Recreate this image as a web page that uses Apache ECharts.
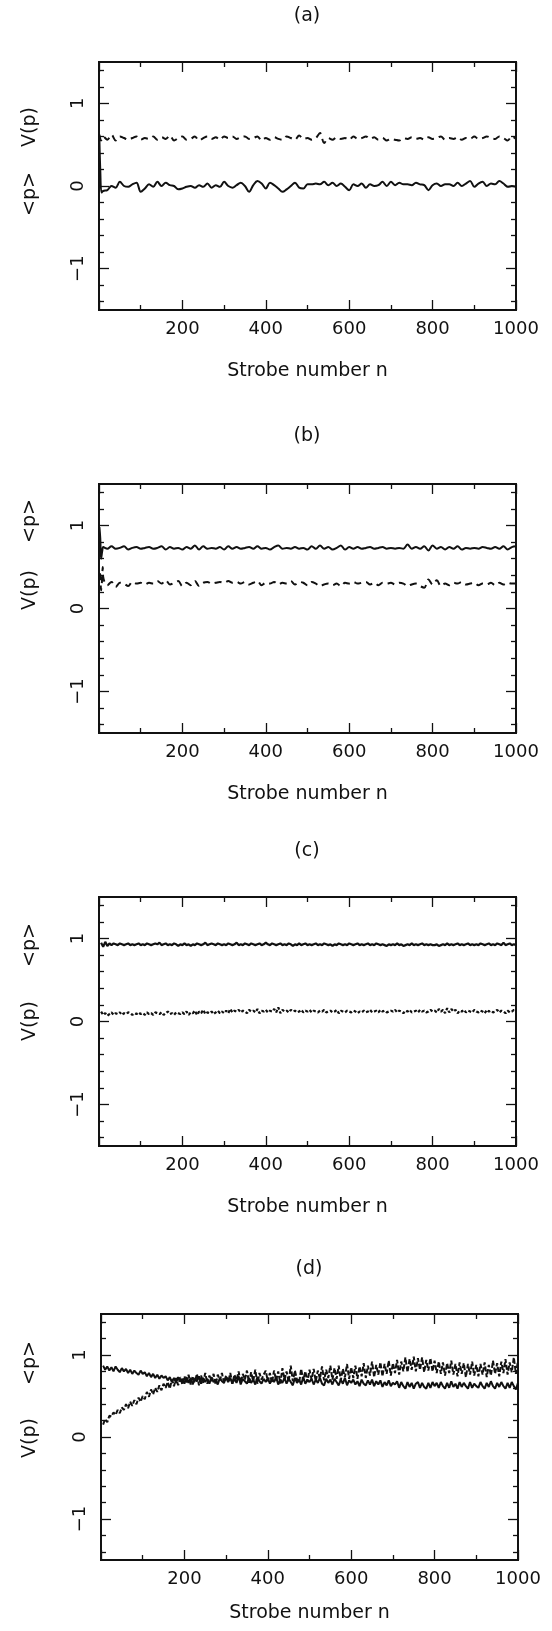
<!DOCTYPE html>
<html><head><meta charset="utf-8">
<script src="https://cdn.jsdelivr.net/npm/echarts@6/dist/echarts.min.js"></script>
<style>html,body{margin:0;padding:0;background:#fff}#c{width:552px;height:1631px}</style>
</head><body><div id="c"></div>
<script>
// ---------- text / ticks ----------
const PANEL_LABELS = ['(a)', '(b)', '(c)', '(d)'];
const X_NAME = 'Strobe number n';
const Y_MAJOR = [-1, 0, 1];
const Y_MINOR = [-1.4, -1.2, -0.8, -0.6, -0.4, -0.2, 0.2, 0.4, 0.6, 0.8, 1.2, 1.4];
const NAME_P = '<p>';
const NAME_V = 'V(p)';

// ---------- sample grids (strobe numbers) ----------
const N10 = Array.from({length: 100}, (_, i) => 10 * (i + 1));
const N5 = Array.from({length: 200}, (_, i) => 5 * (i + 1));

// ---------- panel (a) ----------
const A_SOLID_EARLY_N = [1, 3, 6];
const A_SOLID_EARLY = [0.55, 0.20, -0.08];
const A_SOLID = [
 -0.06,-0.05,0.00,-0.02,0.05,0.00,-0.01,0.02,0.04,-0.07,
 -0.03,0.02,-0.01,0.05,0.00,0.04,0.01,0.00,-0.04,-0.03,
 -0.01,0.00,-0.02,0.01,-0.01,0.03,-0.02,0.01,-0.01,0.05,
 0.00,-0.02,0.01,0.04,0.00,-0.07,0.01,0.06,0.03,-0.03,
 0.04,0.01,-0.03,-0.07,-0.04,0.00,0.04,-0.02,-0.03,0.02,
 0.02,0.03,0.02,0.05,0.01,0.04,0.00,0.03,-0.01,-0.05,
 0.02,0.00,0.03,-0.02,0.02,0.00,0.01,0.05,0.00,0.05,
 0.01,0.04,0.02,0.02,0.01,0.04,0.02,0.01,-0.05,0.01,
 0.03,0.00,0.02,0.02,0.00,0.04,0.00,0.03,0.06,-0.01,
 0.03,0.05,0.00,0.03,0.02,0.06,0.03,-0.01,0.00,-0.01];
const A_DASH_EARLY_N = [1, 5];
const A_DASH_EARLY = [0.62, 0.55];
const A_DASH = [
 0.60,0.56,0.62,0.55,0.60,0.58,0.56,0.58,0.60,0.56,
 0.58,0.57,0.60,0.56,0.59,0.57,0.61,0.55,0.58,0.60,
 0.56,0.57,0.60,0.55,0.58,0.60,0.57,0.59,0.56,0.60,
 0.58,0.60,0.57,0.59,0.60,0.57,0.58,0.60,0.55,0.58,
 0.56,0.59,0.57,0.56,0.60,0.58,0.56,0.61,0.57,0.58,
 0.56,0.58,0.64,0.52,0.58,0.56,0.59,0.57,0.58,0.56,
 0.60,0.57,0.58,0.60,0.57,0.59,0.56,0.58,0.55,0.57,
 0.56,0.55,0.58,0.57,0.59,0.57,0.58,0.56,0.59,0.57,
 0.58,0.60,0.56,0.58,0.57,0.59,0.56,0.58,0.57,0.60,
 0.57,0.58,0.60,0.58,0.57,0.60,0.58,0.55,0.60,0.57];

// ---------- panel (b) ----------
const B_SOLID_EARLY_N = [1, 3, 5, 8];
const B_SOLID_EARLY = [0.98, 0.85, 0.60, 0.70];
const B_SOLID = [
 0.74,0.72,0.75,0.72,0.73,0.75,0.71,0.73,0.74,0.72,
 0.73,0.74,0.72,0.73,0.75,0.71,0.74,0.72,0.73,0.71,
 0.74,0.72,0.76,0.71,0.75,0.72,0.73,0.72,0.74,0.71,
 0.75,0.72,0.74,0.72,0.73,0.74,0.72,0.75,0.72,0.73,
 0.71,0.74,0.76,0.72,0.73,0.72,0.74,0.72,0.73,0.71,
 0.75,0.72,0.76,0.72,0.74,0.71,0.73,0.76,0.71,0.74,
 0.72,0.74,0.72,0.73,0.74,0.72,0.73,0.74,0.72,0.73,
 0.72,0.73,0.72,0.77,0.72,0.74,0.72,0.75,0.70,0.76,
 0.72,0.74,0.71,0.74,0.72,0.75,0.71,0.73,0.72,0.73,
 0.72,0.74,0.73,0.72,0.74,0.72,0.75,0.71,0.74,0.75];
const B_DASH_EARLY_N = [1, 3, 5, 7, 9];
const B_DASH_EARLY = [0.42, 0.41, 0.22, 0.32, 0.50];
const B_DASH = [
 0.38,0.28,0.32,0.26,0.31,0.30,0.27,0.32,0.30,0.31,
 0.29,0.31,0.30,0.33,0.30,0.34,0.29,0.31,0.33,0.27,
 0.31,0.28,0.33,0.27,0.31,0.32,0.30,0.31,0.32,0.31,
 0.33,0.31,0.32,0.30,0.32,0.29,0.31,0.33,0.28,0.31,
 0.30,0.32,0.29,0.31,0.30,0.33,0.29,0.32,0.31,0.28,
 0.32,0.30,0.27,0.29,0.30,0.28,0.30,0.27,0.31,0.30,
 0.32,0.30,0.31,0.32,0.29,0.31,0.28,0.31,0.30,0.31,
 0.29,0.31,0.30,0.27,0.29,0.30,0.27,0.25,0.35,0.29,
 0.34,0.27,0.30,0.28,0.31,0.30,0.32,0.29,0.30,0.31,
 0.28,0.30,0.29,0.31,0.28,0.31,0.29,0.31,0.30,0.30];

// ---------- panel (c) ----------
const C_SOLID = [
 0.95,0.90,0.96,0.91,0.94,0.92,0.94,0.93,0.92,0.94,
 0.93,0.92,0.93,0.94,0.92,0.93,0.92,0.93,0.94,0.92,
 0.93,0.92,0.94,0.93,0.92,0.93,0.94,0.93,0.95,0.92,
 0.93,0.94,0.92,0.93,0.92,0.94,0.93,0.91,0.93,0.92,
 0.94,0.92,0.93,0.91,0.93,0.92,0.94,0.93,0.92,0.93,
 0.95,0.92,0.93,0.94,0.93,0.92,0.94,0.93,0.92,0.93,
 0.92,0.94,0.93,0.92,0.93,0.95,0.92,0.93,0.92,0.94,
 0.93,0.92,0.94,0.93,0.92,0.93,0.94,0.92,0.93,0.95,
 0.93,0.92,0.94,0.93,0.92,0.93,0.94,0.92,0.93,0.92,
 0.94,0.93,0.91,0.93,0.92,0.94,0.92,0.93,0.94,0.92,
 0.93,0.92,0.93,0.94,0.92,0.93,0.92,0.94,0.93,0.92,
 0.93,0.91,0.93,0.92,0.94,0.93,0.92,0.93,0.92,0.94,
 0.93,0.92,0.93,0.94,0.92,0.93,0.92,0.93,0.94,0.92,
 0.93,0.92,0.94,0.93,0.92,0.93,0.92,0.91,0.93,0.92,
 0.93,0.92,0.94,0.92,0.93,0.91,0.92,0.93,0.92,0.94,
 0.92,0.93,0.92,0.93,0.94,0.92,0.93,0.92,0.93,0.92,
 0.92,0.93,0.91,0.92,0.93,0.92,0.94,0.92,0.93,0.92,
 0.93,0.94,0.92,0.93,0.92,0.93,0.94,0.92,0.93,0.92,
 0.93,0.92,0.94,0.93,0.92,0.93,0.94,0.92,0.93,0.92,
 0.94,0.93,0.92,0.95,0.92,0.93,0.94,0.92,0.93,0.92];
const C_DASH = [
 0.12,0.08,0.10,0.07,0.09,0.11,0.08,0.10,0.09,0.11,
 0.08,0.10,0.09,0.11,0.10,0.08,0.10,0.09,0.11,0.09,
 0.10,0.08,0.11,0.09,0.10,0.08,0.11,0.10,0.09,0.11,
 0.08,0.10,0.12,0.09,0.10,0.08,0.11,0.10,0.09,0.11,
 0.09,0.12,0.08,0.11,0.10,0.13,0.08,0.12,0.10,0.14,
 0.09,0.11,0.10,0.12,0.09,0.11,0.13,0.10,0.12,0.10,
 0.13,0.10,0.15,0.11,0.13,0.12,0.14,0.11,0.13,0.12,
 0.10,0.14,0.12,0.13,0.11,0.15,0.10,0.13,0.12,0.14,
 0.11,0.13,0.12,0.15,0.11,0.17,0.10,0.14,0.12,0.13,
 0.11,0.14,0.12,0.13,0.11,0.12,0.14,0.11,0.13,0.12,
 0.14,0.11,0.13,0.12,0.11,0.13,0.12,0.14,0.11,0.12,
 0.13,0.11,0.12,0.14,0.10,0.13,0.12,0.11,0.13,0.12,
 0.11,0.13,0.12,0.10,0.12,0.11,0.13,0.11,0.12,0.14,
 0.11,0.12,0.13,0.11,0.14,0.12,0.13,0.11,0.12,0.13,
 0.12,0.14,0.11,0.13,0.12,0.10,0.13,0.12,0.14,0.11,
 0.12,0.13,0.11,0.14,0.12,0.13,0.11,0.12,0.14,0.12,
 0.13,0.11,0.15,0.12,0.14,0.10,0.16,0.11,0.15,0.12,
 0.14,0.10,0.13,0.12,0.14,0.11,0.13,0.12,0.11,0.14,
 0.12,0.11,0.13,0.12,0.10,0.14,0.12,0.13,0.11,0.12,
 0.14,0.11,0.13,0.12,0.10,0.13,0.11,0.12,0.14,0.12];

// ---------- panel (d) ----------
const D_SOLID = [
 0.87,0.82,0.86,0.81,0.85,0.80,0.86,0.82,0.79,0.84,
 0.80,0.83,0.78,0.82,0.77,0.81,0.78,0.76,0.81,0.77,
 0.79,0.74,0.78,0.73,0.77,0.72,0.76,0.71,0.75,0.72,
 0.74,0.69,0.73,0.67,0.72,0.66,0.73,0.68,0.71,0.65,
 0.73,0.66,0.72,0.64,0.71,0.68,0.74,0.65,0.72,0.67,
 0.71,0.65,0.73,0.67,0.70,0.64,0.72,0.68,0.66,0.73,
 0.67,0.72,0.65,0.71,0.66,0.74,0.64,0.71,0.68,0.65,
 0.72,0.66,0.70,0.64,0.73,0.68,0.65,0.71,0.67,0.72,
 0.65,0.71,0.67,0.73,0.64,0.70,0.66,0.72,0.65,0.71,
 0.67,0.63,0.72,0.66,0.70,0.64,0.73,0.65,0.70,0.67,
 0.71,0.64,0.70,0.66,0.72,0.65,0.63,0.71,0.66,0.70,
 0.64,0.71,0.67,0.63,0.70,0.65,0.72,0.63,0.69,0.66,
 0.70,0.64,0.68,0.62,0.70,0.65,0.63,0.69,0.64,0.70,
 0.62,0.68,0.64,0.69,0.61,0.67,0.63,0.69,0.62,0.66,
 0.64,0.68,0.60,0.67,0.62,0.59,0.67,0.61,0.66,0.59,
 0.65,0.67,0.60,0.66,0.61,0.59,0.66,0.60,0.67,0.62,
 0.66,0.60,0.67,0.62,0.59,0.66,0.60,0.68,0.61,0.65,
 0.59,0.67,0.61,0.66,0.62,0.59,0.67,0.60,0.65,0.62,
 0.60,0.67,0.62,0.59,0.66,0.61,0.68,0.62,0.59,0.66,
 0.61,0.67,0.62,0.59,0.66,0.60,0.67,0.62,0.58,0.66];
const D_DASH = [
 0.15,0.22,0.18,0.26,0.25,0.30,0.27,0.33,0.29,0.36,
 0.33,0.40,0.35,0.43,0.38,0.45,0.40,0.48,0.43,0.50,
 0.46,0.55,0.49,0.58,0.52,0.60,0.55,0.63,0.57,0.65,
 0.60,0.67,0.59,0.70,0.62,0.72,0.63,0.73,0.64,0.74,
 0.66,0.76,0.64,0.74,0.67,0.77,0.63,0.75,0.66,0.78,
 0.65,0.75,0.68,0.77,0.64,0.76,0.69,0.78,0.66,0.75,
 0.67,0.78,0.65,0.76,0.69,0.80,0.66,0.77,0.70,0.81,
 0.66,0.79,0.68,0.82,0.65,0.78,0.70,0.76,0.81,0.68,
 0.78,0.66,0.81,0.69,0.80,0.65,0.84,0.70,0.80,0.67,
 0.87,0.68,0.81,0.70,0.66,0.83,0.69,0.80,0.67,0.82,
 0.70,0.83,0.68,0.81,0.71,0.86,0.69,0.82,0.72,0.87,
 0.70,0.84,0.71,0.87,0.69,0.83,0.73,0.89,0.71,0.85,
 0.72,0.87,0.71,0.86,0.74,0.90,0.72,0.87,0.75,0.92,
 0.73,0.88,0.76,0.91,0.74,0.89,0.77,0.93,0.75,0.90,
 0.78,0.94,0.76,0.92,0.80,0.97,0.79,0.95,0.82,0.98,
 0.80,0.96,0.82,0.97,0.79,0.94,0.81,0.96,0.80,0.93,
 0.78,0.92,0.77,0.91,0.75,0.90,0.78,0.93,0.76,0.89,
 0.74,0.91,0.77,0.90,0.73,0.89,0.76,0.92,0.75,0.88,
 0.74,0.89,0.76,0.91,0.73,0.88,0.75,0.93,0.77,0.90,
 0.74,0.92,0.78,0.95,0.76,0.91,0.79,0.97,0.77,0.93];

// ---------- build ----------
function pairs(ns, vs) { return ns.map((n, i) => [n, vs[i]]); }
const FONT = '"DejaVu Sans", sans-serif';
const INK = '#111';

const panels = [
  {left: 99, top: 62, height: 248, title: [307, 16], nameGap: 52,
   names: [[NAME_V, 127], [NAME_P, 194]], smooth: 0.35, width: 2.0,
   solid: pairs(A_SOLID_EARLY_N.concat(N10), A_SOLID_EARLY.concat(A_SOLID)),
   dash: pairs(A_DASH_EARLY_N.concat(N10), A_DASH_EARLY.concat(A_DASH)), dashType: [7, 5]},
  {left: 99, top: 484, height: 249, title: [307, 436], nameGap: 52,
   names: [[NAME_P, 521], [NAME_V, 590]], smooth: 0.35, width: 2.0,
   solid: pairs(B_SOLID_EARLY_N.concat(N10), B_SOLID_EARLY.concat(B_SOLID)),
   dash: pairs(B_DASH_EARLY_N.concat(N10), B_DASH_EARLY.concat(B_DASH)), dashType: [7, 5]},
  {left: 99, top: 897, height: 249, title: [307, 851], nameGap: 52,
   names: [[NAME_P, 945], [NAME_V, 1021]], smooth: false, width: 2.2,
   solid: pairs(N5, C_SOLID), dash: pairs(N5, C_DASH), dashType: [3, 2]},
  {left: 101, top: 1314, height: 246, title: [309, 1269], nameGap: 44,
   names: [[NAME_P, 1363], [NAME_V, 1438]], smooth: false, width: 2.0,
   solid: pairs(N5, D_SOLID), dash: pairs(N5, D_DASH), dashType: [5, 2]}
];

const grid = [], xAxis = [], yAxis = [], series = [], graphic = [];
const lineCol = {color: INK, width: 1.8};
const tickCol = {color: INK, width: 1.3};

panels.forEach((p, i) => {
  grid.push({left: p.left, top: p.top, width: 417, height: p.height,
             show: true, borderColor: INK, borderWidth: 1.8, backgroundColor: 'transparent'});
  xAxis.push({gridIndex: i, type: 'value', min: 0, max: 1000, interval: 200, position: 'bottom',
    axisLine: {show: true, onZero: false, lineStyle: lineCol},
    axisTick: {show: true, inside: true, length: 10, lineStyle: tickCol},
    minorTick: {show: true, splitNumber: 2, length: 5, lineStyle: tickCol},
    axisLabel: {show: true, showMinLabel: false, margin: 10, color: INK, fontFamily: FONT, fontSize: 18,
                formatter: v => String(v)},
    splitLine: {show: false}, minorSplitLine: {show: false},
    name: X_NAME, nameLocation: 'middle', nameGap: p.nameGap,
    nameTextStyle: {color: INK, fontFamily: FONT, fontSize: 19}});
  xAxis.push({gridIndex: i, type: 'value', min: 0, max: 1000, interval: 200, position: 'top',
    axisLine: {show: true, onZero: false, lineStyle: lineCol},
    axisTick: {show: true, inside: true, length: 10, lineStyle: tickCol},
    minorTick: {show: true, splitNumber: 2, length: 5, lineStyle: tickCol},
    axisLabel: {show: false}, splitLine: {show: false}});
  const yBase = {gridIndex: i, type: 'value', min: -1.5, max: 1.5, splitLine: {show: false}};
  yAxis.push(Object.assign({}, yBase, {position: 'left',
    axisLine: {show: true, onZero: false, lineStyle: lineCol},
    axisTick: {show: true, inside: true, length: 10, customValues: Y_MAJOR, lineStyle: tickCol},
    axisLabel: {show: true, customValues: Y_MAJOR, rotate: 90, margin: 12, color: INK,
                fontFamily: FONT, fontSize: 18,
                formatter: v => (v < 0 ? '\u2212' + Math.abs(v) : String(v))}}));
  yAxis.push(Object.assign({}, yBase, {position: 'left',
    axisLine: {show: false, onZero: false},
    axisTick: {show: true, inside: true, length: 5, customValues: Y_MINOR, lineStyle: tickCol},
    axisLabel: {show: false}}));
  yAxis.push(Object.assign({}, yBase, {position: 'right',
    axisLine: {show: true, onZero: false, lineStyle: lineCol},
    axisTick: {show: true, inside: true, length: 10, customValues: Y_MAJOR, lineStyle: tickCol},
    axisLabel: {show: false}}));
  yAxis.push(Object.assign({}, yBase, {position: 'right',
    axisLine: {show: false, onZero: false},
    axisTick: {show: true, inside: true, length: 5, customValues: Y_MINOR, lineStyle: tickCol},
    axisLabel: {show: false}}));

  series.push({type: 'line', name: NAME_P, xAxisIndex: 2 * i, yAxisIndex: 4 * i,
    data: p.solid, showSymbol: false, symbol: 'none', smooth: p.smooth,
    lineStyle: {color: INK, width: p.width, type: 'solid'}, animation: false});
  series.push({type: 'line', name: NAME_V, xAxisIndex: 2 * i, yAxisIndex: 4 * i,
    data: p.dash, showSymbol: false, symbol: 'none', smooth: p.smooth,
    lineStyle: {color: INK, width: p.width, type: p.dashType}, animation: false});

  graphic.push({type: 'text', x: p.title[0], y: p.title[1],
    style: {text: PANEL_LABELS[i], font: '19px ' + FONT, fill: INK, align: 'center', verticalAlign: 'middle'}});
  p.names.forEach(nm => {
    graphic.push({type: 'text', x: 30, y: nm[1], rotation: Math.PI / 2,
      style: {text: nm[0], font: '19px ' + FONT, fill: INK, align: 'center', verticalAlign: 'middle'}});
  });
});

const chart = echarts.init(document.getElementById('c'), null, {renderer: 'canvas'});
chart.setOption({animation: false, backgroundColor: '#fff', grid, xAxis, yAxis, series, graphic});
</script>
</body></html>
